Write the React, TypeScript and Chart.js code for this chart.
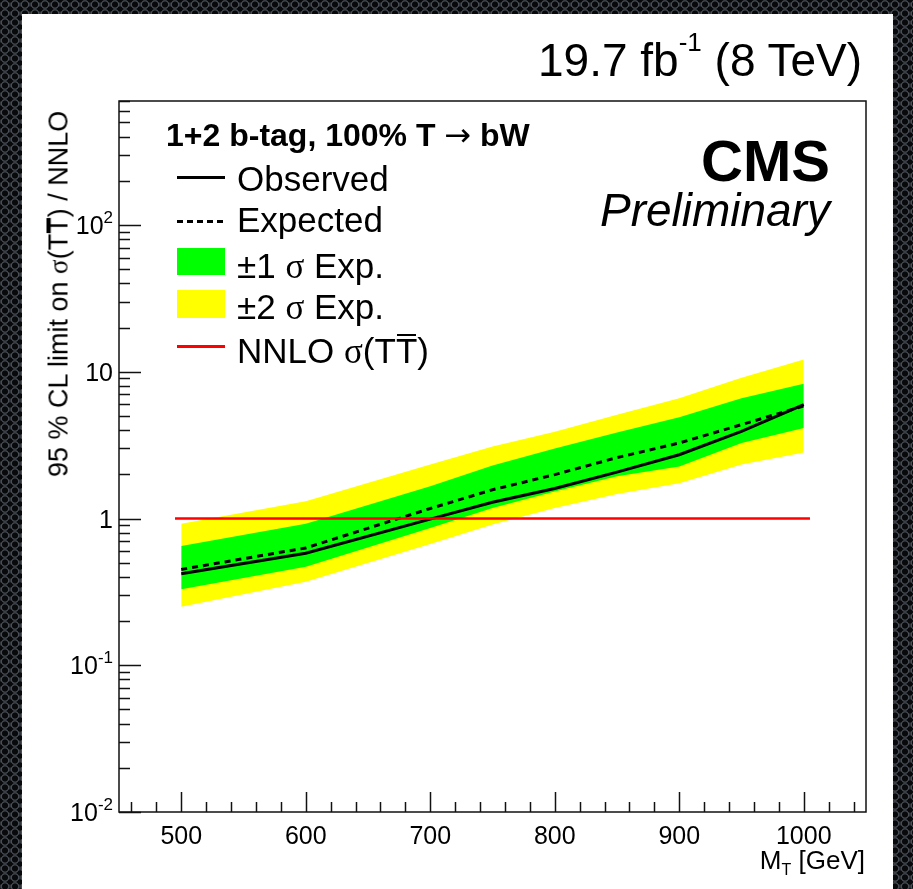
import React, { useEffect, useRef } from 'react';
import { Chart, registerables } from 'chart.js';

Chart.register(...registerables);

// ---- data ----
const massPoints = [500, 600, 700, 750, 800, 850, 900, 950, 1000];
const observedLimit = [0.42, 0.58, 0.99, 1.29, 1.6, 2.07, 2.72, 3.92, 5.97];
const expectedLimit = [0.45, 0.63, 1.17, 1.57, 1.99, 2.6, 3.27, 4.36, 5.85];
const oneSigmaUp = [0.65, 0.92, 1.66, 2.3, 3.0, 3.85, 4.89, 6.6, 8.3];
const oneSigmaDown = [0.33, 0.47, 0.86, 1.18, 1.53, 1.94, 2.26, 3.27, 4.13];
const twoSigmaUp = [0.92, 1.31, 2.33, 3.1, 3.9, 5.1, 6.6, 9.1, 12.1];
const twoSigmaDown = [0.25, 0.37, 0.67, 0.91, 1.18, 1.47, 1.74, 2.33, 2.82];
const theoryMass = [495, 1005];
const theoryRatio = [1, 1];

const xTickValues = [500, 600, 700, 800, 900, 1000];
const yTickValues = [0.01, 0.1, 1, 10, 100];
const yTickBases = ['10', '10', '1', '10', '10'];
const yTickExponents = ['-2', '-1', '', '', '2'];

const X_MIN = 450;
const X_MAX = 1050;
const Y_MIN = 0.01;
const Y_MAX = 700;

const PAGE_W = 913;
const sansFont = '"Liberation Sans", Arial, Helvetica, sans-serif';
const serifFont = '"Liberation Serif", "Times New Roman", serif';

const toPoints = (xs: number[], ys: number[]) => xs.map((x, i) => ({ x, y: ys[i] }));

const frameTicks = {
  id: 'frameTicks',
  afterDatasetsDraw(chart: any) {
    const { ctx, chartArea: a, scales } = chart;
    const xs = scales.x;
    const ys = scales.y;
    ctx.save();
    ctx.strokeStyle = '#111';
    ctx.lineWidth = 1.5;
    ctx.beginPath();
    for (let v = 460; v <= 1040; v += 20) {
      const px = Math.round(xs.getPixelForValue(v)) + 0.5;
      const len = v % 100 === 0 ? 20 : 10;
      ctx.moveTo(px, a.bottom);
      ctx.lineTo(px, a.bottom - len);
    }
    for (let e = -2; e <= 2; e++) {
      for (let k = 1; k <= 9; k++) {
        const v = k * Math.pow(10, e);
        if (v > Y_MAX) break;
        const py = Math.round(ys.getPixelForValue(v)) + 0.5;
        const len = k === 1 ? 22 : 11;
        ctx.moveTo(a.left, py);
        ctx.lineTo(a.left + len, py);
      }
    }
    ctx.stroke();
    ctx.strokeRect(a.left, a.top, a.right - a.left, a.bottom - a.top);

    // y tick labels with real superscripts, placed by the log scale
    ctx.fillStyle = '#000';
    ctx.textBaseline = 'alphabetic';
    ys.ticks.forEach((t: any, i: number) => {
      const py = ys.getPixelForValue(t.value);
      const base = yTickBases[i];
      const exp = yTickExponents[i];
      const right = a.left - 6;
      const baseY = py + 9;
      ctx.font = `25px ${sansFont}`;
      if (exp) {
        ctx.font = `17px ${sansFont}`;
        const ew = ctx.measureText(exp).width;
        ctx.textAlign = 'right';
        ctx.fillText(exp, right, baseY - 11);
        ctx.font = `25px ${sansFont}`;
        ctx.fillText(base, right - ew, baseY);
      } else {
        ctx.textAlign = 'right';
        ctx.fillText(base, right, baseY);
      }
    });
    ctx.restore();
  },
};

function Label(props: {
  x: number;
  y: number;
  size: number;
  align?: 'left' | 'right';
  weight?: number;
  italic?: boolean;
  children: React.ReactNode;
}) {
  const { x, y, size, align = 'left', weight = 400, italic = false, children } = props;
  const style: React.CSSProperties = {
    position: 'absolute',
    top: y - size / 2,
    fontSize: size,
    lineHeight: `${size}px`,
    fontFamily: sansFont,
    fontWeight: weight,
    fontStyle: italic ? 'italic' : 'normal',
    whiteSpace: 'nowrap',
    color: '#000',
  };
  if (align === 'left') style.left = x;
  else style.right = PAGE_W - x;
  return <div style={style}>{children}</div>;
}

const Sigma = () => <span style={{ fontFamily: serifFont }}>σ</span>;
const BarT = () => (
  <span style={{ position: 'relative', display: 'inline-block' }}>
    T
    <span
      style={{
        position: 'absolute',
        left: 1,
        right: 1,
        top: '0.04em',
        height: 2,
        background: '#000',
      }}
    />
  </span>
);

export default function App() {
  const canvasRef = useRef<HTMLCanvasElement | null>(null);

  useEffect(() => {
    if (!canvasRef.current) return;
    const lineBase = { pointRadius: 0, tension: 0 };
    const chart = new Chart(canvasRef.current, {
      type: 'line',
      data: {
        datasets: [
          {
            label: '±2 σ Exp. up',
            data: toPoints(massPoints, twoSigmaUp),
            ...lineBase,
            borderWidth: 0,
            borderColor: 'rgba(0,0,0,0)',
            backgroundColor: '#ffff00',
            fill: '+1',
            order: 10,
          },
          {
            label: '±2 σ Exp. down',
            data: toPoints(massPoints, twoSigmaDown),
            ...lineBase,
            borderWidth: 0,
            borderColor: 'rgba(0,0,0,0)',
            fill: false,
            order: 11,
          },
          {
            label: '±1 σ Exp. up',
            data: toPoints(massPoints, oneSigmaUp),
            ...lineBase,
            borderWidth: 0,
            borderColor: 'rgba(0,0,0,0)',
            backgroundColor: '#00ff00',
            fill: '+1',
            order: 8,
          },
          {
            label: '±1 σ Exp. down',
            data: toPoints(massPoints, oneSigmaDown),
            ...lineBase,
            borderWidth: 0,
            borderColor: 'rgba(0,0,0,0)',
            fill: false,
            order: 9,
          },
          {
            label: 'Expected',
            data: toPoints(massPoints, expectedLimit),
            ...lineBase,
            borderColor: '#000',
            borderWidth: 3,
            borderDash: [6, 5],
            fill: false,
            order: 3,
          },
          {
            label: 'Observed',
            data: toPoints(massPoints, observedLimit),
            ...lineBase,
            borderColor: '#000',
            borderWidth: 3,
            fill: false,
            order: 2,
          },
          {
            label: 'NNLO',
            data: toPoints(theoryMass, theoryRatio),
            ...lineBase,
            borderColor: '#ff0000',
            borderWidth: 2.5,
            fill: false,
            order: 1,
          },
        ],
      },
      options: {
        animation: false,
        responsive: false,
        devicePixelRatio: 1,
        layout: { padding: { top: 87, right: 27, left: 0, bottom: 0 } },
        plugins: {
          legend: { display: false },
          tooltip: { enabled: false },
          title: { display: false },
        },
        scales: {
          x: {
            type: 'linear',
            min: X_MIN,
            max: X_MAX,
            grid: { display: false, drawTicks: false },
            border: { display: false },
            ticks: {
              color: '#000',
              font: { family: sansFont, size: 25 },
              padding: 10,
              maxRotation: 0,
              autoSkip: false,
              callback: (v: any) => String(v),
            },
            afterBuildTicks: (s: any) => {
              s.ticks = xTickValues.map((value) => ({ value }));
            },
            afterFit: (s: any) => {
              s.height = 77;
            },
          },
          y: {
            type: 'logarithmic',
            min: Y_MIN,
            max: Y_MAX,
            grid: { display: false, drawTicks: false },
            border: { display: false },
            ticks: { display: false },
            afterBuildTicks: (s: any) => {
              s.ticks = yTickValues.map((value) => ({ value }));
            },
            afterFit: (s: any) => {
              s.width = 97;
            },
          },
        },
      },
      plugins: [frameTicks],
    } as any);
    return () => chart.destroy();
  }, []);

  const hole =
    'radial-gradient(circle at 50% 50%, #08090b 0, #08090b 2.6px, #4d535b 3.6px, #2a2e34 4.4px, transparent 4.6px)';

  return (
    <div
      style={{
        position: 'fixed',
        left: 0,
        top: 0,
        width: 913,
        height: 889,
        overflow: 'hidden',
        backgroundColor: '#25282d',
        backgroundImage: `${hole}, ${hole}`,
        backgroundSize: '10px 9px',
        backgroundPosition: '0 0, 5px 4.5px',
      }}
    >
      <div
        style={{
          position: 'absolute',
          left: 22,
          top: 14,
          width: 871,
          height: 875,
          background: '#fff',
        }}
      >
        <canvas ref={canvasRef} width={871} height={875} style={{ display: 'block' }} />
      </div>

      {/* luminosity header */}
      <Label x={862} y={60} size={46} align="right">
        19.7 fb
        <sup style={{ fontSize: 26, verticalAlign: 'top', lineHeight: '26px', position: 'relative', top: -8 }}>-1</sup>{' '}
        (8 TeV)
      </Label>

      {/* CMS Preliminary */}
      <Label x={830} y={161} size={58} align="right" weight={700}>
        CMS
      </Label>
      <Label x={830} y={210} size={46} align="right" italic>
        Preliminary
      </Label>

      {/* legend */}
      <Label x={166} y={135} size={32} weight={700}>
        1+2 b-tag, 100% T{' '}
        <span style={{ fontFamily: '"DejaVu Sans", sans-serif', fontWeight: 400 }}>→</span> bW
      </Label>
      <div style={{ position: 'absolute', left: 177, top: 176, width: 48, height: 3, background: '#000' }} />
      <Label x={237} y={178} size={35}>
        Observed
      </Label>
      <div
        style={{
          position: 'absolute',
          left: 177,
          top: 220,
          width: 48,
          height: 3,
          background: 'repeating-linear-gradient(to right, #000 0 6px, transparent 6px 10px)',
        }}
      />
      <Label x={237} y={219} size={35}>
        Expected
      </Label>
      <div style={{ position: 'absolute', left: 177, top: 248, width: 48, height: 27, background: '#00ff00' }} />
      <Label x={237} y={265} size={35}>
        ±1 <Sigma /> Exp.
      </Label>
      <div style={{ position: 'absolute', left: 177, top: 290, width: 48, height: 28, background: '#ffff00' }} />
      <Label x={237} y={306} size={35}>
        ±2 <Sigma /> Exp.
      </Label>
      <div style={{ position: 'absolute', left: 177, top: 345, width: 48, height: 3, background: '#ff0000' }} />
      <Label x={237} y={350} size={35}>
        NNLO <Sigma />(T<BarT />)
      </Label>

      {/* y-axis title */}
      <div
        style={{
          position: 'absolute',
          left: 59,
          top: 294,
          transform: 'translate(-50%, -50%) rotate(-90deg)',
          fontFamily: sansFont,
          fontSize: 27,
          lineHeight: '27px',
          whiteSpace: 'nowrap',
          color: '#000',
        }}
      >
        95 % CL limit on <Sigma />(T<BarT />) / NNLO
      </div>

      {/* x-axis title */}
      <Label x={865} y={860} size={26} align="right">
        M<sub style={{ fontSize: 16, verticalAlign: 'baseline', position: 'relative', top: 6 }}>T</sub> [GeV]
      </Label>
    </div>
  );
}
